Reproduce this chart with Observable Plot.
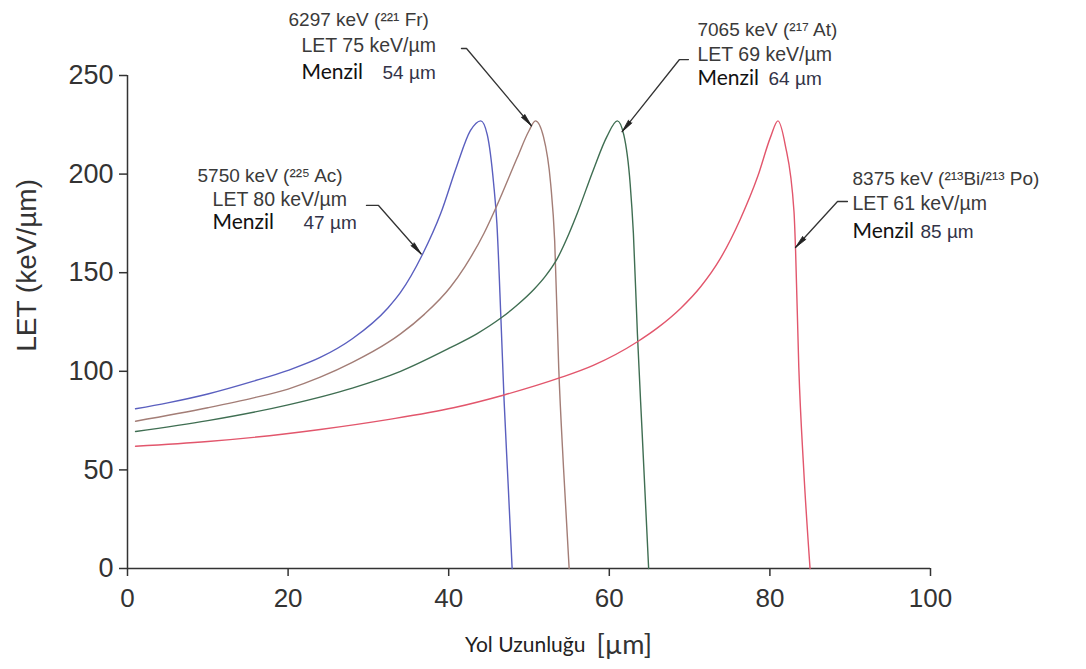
<!DOCTYPE html>
<html>
<head>
<meta charset="utf-8">
<script src="https://cdn.jsdelivr.net/npm/d3@7"></script>
<script src="https://cdn.jsdelivr.net/npm/@observablehq/plot@0.6"></script>
<style>
  html, body { margin: 0; padding: 0; background: #fff; }
  #chart svg { display: block; }
</style>
</head>
<body>
<div id="chart"></div>
<script>
// ---- Series data (path length in µm, LET in keV/µm) ----
const seriesNames = ["225Ac", "221Fr", "217At", "213Bi"];
const seriesColors = ["#5a5fbf", "#a37d76", "#3f6e52", "#e2566c"];

const acX = [1, 5, 10, 15.7, 20, 24, 28, 32.4, 34, 36.7, 39, 41, 42.7, 44, 44.8, 45.6, 46, 46.5, 46.9, 47.4, 47.9];
const acY = [81, 84, 88.5, 95, 100.5, 107, 116.5, 132, 140, 159, 180, 204, 222, 227, 220, 195, 175, 127, 85, 43, 0];

const frX = [1, 10, 15.7, 20, 24, 28, 32.4, 34, 37, 40.2, 42, 44.4, 46, 48.5, 50, 50.8, 51.8, 52.7, 53.2, 53.7, 54.3, 55];
const frY = [74.7, 81.5, 86.5, 91, 97, 104.5, 114.5, 119, 129, 142.6, 153, 170, 184, 208, 222, 227, 219, 195, 166, 102, 51, 0];

const atX = [1, 10, 20, 28, 34, 40.2, 43.5, 46.5, 48.5, 50.6, 52, 53.5, 55, 56, 58, 59.7, 61, 61.8, 62.6, 63, 63.5, 64.1, 64.9];
const atY = [69.5, 75, 83, 91.5, 100, 112, 119, 127, 133.5, 141.5, 148, 157, 170, 180, 202, 219, 227, 220, 195, 170, 119, 68, 0];

const biX = [1, 10, 15.7, 24, 32.4, 40.6, 46.9, 53.7, 58, 63.5, 66, 68.9, 71.4, 73.8, 76.3, 78.5, 80.1, 81, 81.9, 83, 83.2, 83.6, 84.2, 85];
const biY = [62, 64.4, 66.5, 70.5, 75.5, 81.5, 88, 96.5, 103, 115, 122, 132, 143, 157, 177, 199, 219, 227, 215, 181, 161, 102, 51, 0];

const seriesX = [acX, frX, atX, biX];
const seriesY = [acY, frY, atY, biY];

// ---- Axis ticks ----
const xTicks = [0, 20, 40, 60, 80, 100];
const yTicks = [0, 50, 100, 150, 200, 250];

// ---- Annotation texts ----
const annLine1 = ["5750 keV (²²⁵ Ac)", "6297 keV (²²¹ Fr)", "7065 keV (²¹⁷ At)", "8375 keV (²¹³Bi/²¹³ Po)"];
const annLine2 = ["LET 80 keV/µm", "LET 75 keV/µm", "LET 69 keV/µm", "LET 61 keV/µm"];
const annWord = "Menzil";
const annRange = ["47 µm", "54 µm", "64 µm", "85 µm"];

// ---- Annotation layout (data coordinates) ----
const line1X = [8.72, 20.05, 70.98, 90.29];
const line1Y = [199.3, 278.4, 273.3, 197.8];
const line2X = [10.59, 21.67, 70.98, 90.29];
const line2Y = [187.0, 265.2, 260.6, 185.1];
const line3Y = [175.4, 251.5, 248.5, 170.9];
const rangeX = [21.92, 31.76, 79.83, 98.75];
// leader lines: start of dash, elbow, tip on curve
const leadStartX = [29.76, 41.59, 69.86, 89.66];
const leadElbowX = [31.26, 42.22, 68.74, 88.42];
const leadY      = [184.1, 263.7, 258.1, 186.1];
const tipX = [36.57, 50.3, 61.6, 83.19];
const tipY = [159.5, 224.5, 221.5, 162.8];

const W = 1086, H = 669;
const mL = 127, mR = 156, mT = 75, mB = 101;
const pxX = (W - mL - mR) / 100, pxY = (H - mT - mB) / 250;

const rows = seriesNames.flatMap((s, i) => seriesX[i].map((x, j) => ({s, x, y: seriesY[i][j]})));
const idx = d3.range(4);
const leaderRows = idx.flatMap(i => [
  {i, x: leadStartX[i], y: leadY[i]},
  {i, x: leadElbowX[i], y: leadY[i]},
  {i, x: tipX[i], y: tipY[i]}
]);
const headRot = i => {
  const dx = (tipX[i] - leadElbowX[i]) * pxX;
  const dy = -(tipY[i] - leadY[i]) * pxY;
  return Math.atan2(dx, -dy) * 180 / Math.PI;
};

const sans = "'Liberation Sans', Arial, sans-serif";
const human = "Lato, 'Open Sans', sans-serif";

const chart = Plot.plot({
  width: W, height: H,
  marginLeft: mL, marginRight: mR, marginTop: mT, marginBottom: mB,
  style: {fontFamily: sans, background: "#fff", overflow: "visible"},
  x: {domain: [0, 100]},
  y: {domain: [0, 250]},
  color: {domain: seriesNames, range: seriesColors},
  marks: [
    Plot.axisX({ticks: xTicks, tickSize: 8, tickPadding: 12, fontSize: 26, stroke: "#333", strokeWidth: 1.5, fill: "#333", label: null, fontFamily: sans}),
    Plot.axisY({ticks: yTicks, tickSize: 8, tickPadding: 6, fontSize: 27, stroke: "#333", strokeWidth: 1.5, fill: "#333", label: null, fontFamily: sans}),
    Plot.ruleY([0], {stroke: "#333", strokeWidth: 1.5}),
    Plot.ruleX([0], {stroke: "#333", strokeWidth: 1.5}),
    Plot.line(rows, {x: "x", y: "y", z: "s", stroke: "s", strokeWidth: 1.4, curve: "monotone-x"}),
    // leader lines and arrowheads
    Plot.line(leaderRows, {x: "x", y: "y", z: "i", stroke: "#333", strokeWidth: 1.3}),
    Plot.vector(idx, {x: i => tipX[i], y: i => tipY[i], rotate: headRot, length: 13, r: 2.2, shape: "spike", anchor: "end", fill: "#222", stroke: "#222", strokeWidth: 0.8}),
    // annotation texts
    Plot.text(idx, {x: i => line1X[i], y: i => line1Y[i], text: i => annLine1[i], textAnchor: "start", fontSize: 19, fontFamily: sans, fill: "#3a3a3a"}),
    Plot.text(idx, {x: i => line2X[i], y: i => line2Y[i], text: i => annLine2[i], textAnchor: "start", fontSize: 19.5, fontFamily: sans, fill: "#3a3a3a"}),
    Plot.text(idx, {x: i => line2X[i], y: i => line3Y[i], text: () => annWord, textAnchor: "start", fontSize: 21, fontFamily: human, fill: "#111"}),
    Plot.text(idx, {x: i => rangeX[i], y: i => line3Y[i], text: i => annRange[i], textAnchor: "start", fontSize: 19, fontFamily: sans, fill: "#333348"}),
    // axis titles
    Plot.text(["LET (keV/µm)"], {x: () => -12.45, y: () => 153.7, text: d => d, rotate: -90, fontSize: 28, fontFamily: sans, fill: "#333"}),
    Plot.text(["Yol Uzunluğu"], {x: () => 57.03, y: () => -39.0, text: d => d, textAnchor: "end", fontSize: 21, fontFamily: human, fill: "#222"}),
    Plot.text(["[µm]"], {x: () => 58.4, y: () => -39.0, text: d => d, textAnchor: "start", fontSize: 27, fontFamily: human, fill: "#333"})
  ]
});
document.getElementById("chart").append(chart);
</script>
</body>
</html>
